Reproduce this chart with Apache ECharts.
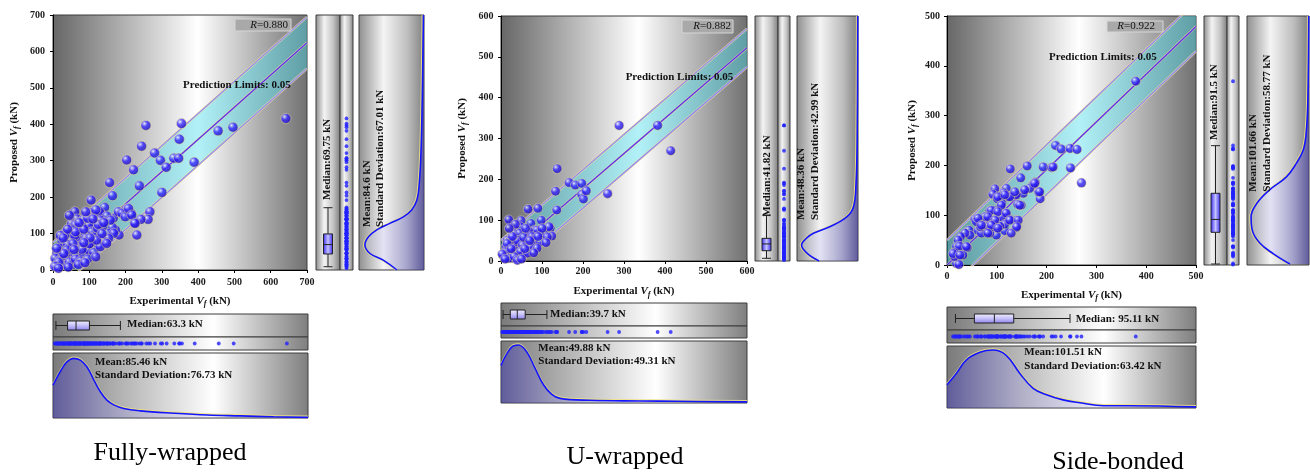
<!DOCTYPE html>
<html><head><meta charset="utf-8">
<script src="https://cdn.jsdelivr.net/npm/echarts@6/dist/echarts.min.js"></script>
<style>html,body{margin:0;padding:0;background:#fff}#c{width:1310px;height:473px}</style>
</head><body><div id="c"></div>
<script>
// ---------------- DATA ----------------
// Fully-wrapped: [experimental, proposed] in kN
const fwPoints = [[256,397],[354,402],[244,340],[348,359],[455,382],[496,392],[642,416],[203,302],[280,321],[296,301],[333,307],[346,307],[389,296],[222,275],[312,282],[238,231],[300,213],[156,240],[164,204],[105,192],[60,160],[142,172],[104,158],[130,154],[202,167],[215,156],[185,157],[267,160],[262,139],[242,139],[224,130],[231,96],[182,96],[166,142],[172,110],[163,117],[150,101],[147,78],[130,86],[31,101],[66,140],[51,127],[87,137],[96,119],[75,101],
[84,139],[116,148],[128,160],[148,148],[130,137],[114,128],[98,124],[80,119],[61,124],[52,110],[73,108],[89,101],[107,105],[123,114],[137,121],[158,137],[180,160],[190,156],[199,146],[208,169],[217,151],[226,128],[167,101],[153,87],[139,78],[125,69],[107,78],[93,64],[75,78],[66,87],[48,82],[34,96],[25,78],[18,60],[11,46],[6,32],[11,14],[29,18],[43,32],[57,46],[66,37],[84,46],[98,55],[112,48],[130,64],[148,73],[48,60],[34,41],[20,28],[52,14],[25,14],
[40,70],[60,95],[70,65],[90,88],[100,72],[55,72],[38,55],[80,57],[112,90],[120,82],[15,22],[5,10],[30,45],[45,22],[62,30],[76,25],[62,105],[85,112],[95,142],[118,165],[125,125],[72,130],[45,150],[40,112],[20,95],[10,60],[28,88],[95,30],[118,36],[102,88],[85,75],[58,56],[42,8],[15,5],[70,15],[88,20],[135,100],[140,130],[110,140],[90,160]];
// U-wrapped
const uwPoints = [[288,332],[382,332],[414,270],[137,226],[166,192],[181,186],[197,190],[197,163],[201,152],[208,172],[260,165],[133,171],[136,125],[66,127],[90,129],[98,100],[19,101],[49,99],[73,92],[120,80],[104,68],[96,64],[124,61],[82,76],[47,84],[32,68],[45,68],[67,68],[15,51],[12,35],[5,15],[15,7],[27,7],[39,11],[55,19],[47,27],[31,35],[67,31],[84,35],[39,47],[59,47],[79,51],[96,47],[23,23],[63,39],
[117,84],[88,76],[68,72],[23,51],[40,51],[113,59],[15,43],[52,39],[72,35],[88,31],[11,23],[48,23],[64,19],[7,11],[19,7],[32,11],[3,17],[40,2],
[28,60],[55,58],[75,60],[60,80],[35,90],[20,80],[100,80],[110,45],[80,20],[50,5],[25,30],[10,5],[58,30],[90,60],[70,50]];
// Side-bonded
const sbPoints = [[379,369],[218,240],[229,233],[247,234],[261,232],[248,195],[270,165],[161,199],[193,197],[210,196],[213,197],[127,193],[148,175],[187,133],[184,147],[177,166],[173,162],[166,154],[153,144],[149,120],[142,122],[139,141],[138,90],[139,75],[119,154],[123,137],[110,124],[114,145],[96,153],[92,142],[101,133],[99,110],[116,104],[86,109],[86,90],[101,90],[125,92],[113,90],[116,69],[99,60],[86,64],[76,84],[76,97],[56,92],[62,70],[69,64],[44,70],[46,60],[36,64],[27,57],[22,50],[19,37],[25,38],[41,35],[32,20],[15,25],[19,3],[24,1],[15,17],[126,137],[67,77],[82,77],[59,87],[109,97],[129,64],[116,82],[92,77],[106,78],
[136,147],[156,151],[176,164],[186,147],[102,137],[116,141],[146,120],[109,120],[89,110],[102,107],[119,104],[82,97],[96,90],[126,90],[143,90],[62,94],[69,80],[89,80],[102,74],[140,77],[82,64],[39,37],[12,23],[26,20]];

// Box statistics [min, Q1, median, Q3, max]
const fwExpBox = [8, 40, 63.3, 100, 185];
const fwPredBox = [9, 44, 69.75, 99, 171];
const uwExpBox = [5, 22.6, 39.7, 59, 112];
const uwPredBox = [6.6, 25.2, 41.82, 55.5, 112.5];
const sbExpBox = [17, 55, 95.11, 134, 247];
const sbPredBox = [2, 65.7, 91.5, 144, 239.6];

// Density curves (relative), experimental: [kN, density]; proposed: [density, kN]
const fwExpDensity = [[0,0.55],[20,0.78],[38,0.94],[57,1.0],[75,0.97],[93,0.86],[112,0.64],[130,0.44],[148,0.30],[167,0.22],[194,0.16],[240,0.12],[332,0.08],[423,0.05],[515,0.035],[606,0.02],[700,0.01]];
const fwPredDensity = [[0.46,0],[0.69,27],[0.92,46],[1.0,69],[0.94,91],[0.80,110],[0.58,128],[0.35,146],[0.21,165],[0.12,192],[0.08,238],[0.05,329],[0.03,467],[0.01,700]];
const uwExpDensity = [[0,0.65],[15,0.86],[31,0.99],[43,1.0],[63,0.88],[83,0.6],[104,0.31],[124,0.15],[144,0.08],[217,0.047],[339,0.035],[428,0.03],[600,0.02]];
const uwPredDensity = [[0.69,0],[0.91,20],[1.0,39],[0.92,55],[0.79,68],[0.5,84],[0.2,108],[0.08,133],[0.035,190],[0.015,300],[0.005,600]];
const sbExpDensity = [[0,0.40],[19,0.6],[39,0.83],[66,0.96],[92,1.0],[119,0.91],[146,0.6],[173,0.34],[200,0.23],[233,0.14],[267,0.09],[314,0.04],[367,0.04],[500,0.02]];
const sbPredDensity = [[0.33,2],[0.62,23],[0.85,44],[0.98,70],[1.0,97],[0.90,124],[0.68,151],[0.39,177],[0.22,204],[0.1,231],[0.05,264],[0.02,331],[0.005,500]];

// Fit line and 95% prediction limits (end points)
const fwFit = [[0,5],[700,624]], fwUpper = [[0,76],[700,695]], fwLower = [[0,-66],[700,553]];
const uwFit = [[0,4],[600,522]], uwUpper = [[0,51],[600,569]], uwLower = [[0,-43],[600,475]];
const sbFit = [[0,0],[500,479]], sbUpper = [[0,50],[500,529]], sbLower = [[0,-50],[500,429]];

// Axis ticks
const fwTicks = [0,100,200,300,400,500,600,700];
const uwTicks = [0,100,200,300,400,500,600];
const sbTicks = [0,100,200,300,400,500];

// Texts
const titles = ['Fully-wrapped','U-wrapped','Side-bonded'];
const rValues = ['0.880','0.882','0.922'];
const expMedianLabels = ['Median:63.3 kN','Median:39.7 kN','Median: 95.11 kN'];
const expMeanLabels = ['Mean:85.46 kN','Mean:49.88 kN','Mean:101.51 kN'];
const expSdLabels = ['Standard Deviation:76.73 kN','Standard Deviation:49.31 kN','Standard Deviation:63.42 kN'];
const predMedianLabels = ['Median:69.75 kN','Median:41.82 kN','Median:91.5 kN'];
const predMeanLabels = ['Mean:84.6 kN','Mean:48.36 kN','Mean:101.66 kN'];
const predSdLabels = ['Standard Deviation:67.01 kN','Standard Deviation:42.99 kN','Standard Deviation:58.77 kN'];
const predLimitLabel = 'Prediction Limits: 0.05';

// ---------------- LAYOUT ----------------
const layouts = [
 { main:[53,15,254,255], sbox:[316,15,24,255], sstrip:[340,15,13,255], sdist:[359,15,65,255],
   bbox:[53,314,255,23], bstrip:[53,337,255,13], bdist:[53,353,255,65], white:0.57, sym:10,
   xGap:24, yGap:32, xMargin:7, yMargin:8, bMax:1.09, sMax:1.1,
   rBox:[235,19,56,12], rText:[288,25.5], pl:[290.7,85], bMed:[127,324.5], bMean:[95,362.5], bSd:[95,375.5],
   sMed:[327,200], sMean:[367,227], sSd:[380.5,227], title:[170,453] },
 { main:[501,16,246,245], sbox:[755,16,23,245], sstrip:[778,16,12,245], sdist:[797,16,61,245],
   bbox:[501,303,246,23], bstrip:[501,326,246,12], bdist:[501,341,246,62], white:0.56, sym:9.5,
   xGap:23.5, yGap:32, xMargin:5.5, yMargin:7.5, bMax:1.07, sMax:1.08,
   rBox:[682,20,51,13], rText:[731,26.5], pl:[733.3,77], bMed:[550,314.5], bMean:[538.3,348], bSd:[538.3,361],
   sMed:[767,216.7], sMean:[801.5,220], sSd:[815.5,220], title:[625,457] },
 { main:[947,16,249,249], sbox:[1204,16,23,249], sstrip:[1227,16,12,249], sdist:[1247,16,62,249],
   bbox:[947,307,249,23], bstrip:[947,330,249,13], bdist:[947,346,249,62], white:0.53, sym:9.5,
   xGap:23, yGap:28, xMargin:6, yMargin:7, bMax:1.07, sMax:1.07,
   rBox:[1107,21,56,11], rText:[1155,26.5], pl:[1156.7,57], bMed:[1075.7,319], bMean:[1024.3,352.5], bSd:[1024.3,366],
   sMed:[1214.5,140], sMean:[1253.5,191.7], sSd:[1267,191.7], title:[1118,462] }
];

const panels = [
 { points: fwPoints, expBox: fwExpBox, predBox: fwPredBox, expDens: fwExpDensity, predDens: fwPredDensity, ticks: fwTicks, fit: fwFit, upper: fwUpper, lower: fwLower },
 { points: uwPoints, expBox: uwExpBox, predBox: uwPredBox, expDens: uwExpDensity, predDens: uwPredDensity, ticks: uwTicks, fit: uwFit, upper: uwUpper, lower: uwLower },
 { points: sbPoints, expBox: sbExpBox, predBox: sbPredBox, expDens: sbExpDensity, predDens: sbPredDensity, ticks: sbTicks, fit: sbFit, upper: sbUpper, lower: sbLower }
];

// ---------------- BUILD ----------------
const FONT = 'Liberation Serif';
const TXT = '#111';
const grids = [], xAxes = [], yAxes = [], series = [], graphics = [];
function lin(stops, vertical){ return {type:'linear', x:0, y:0, x2: vertical?0:1, y2: vertical?1:0,
  colorStops: stops.map(s=>({offset:s[0], color:s[1]}))}; }
function addGrid(r, bg){
  grids.push({left:r[0], top:r[1], width:r[2], height:r[3], show:true, backgroundColor:bg,
    borderColor:'#3c3c3c', borderWidth:1});
  return grids.length-1;
}
const hidden = {show:false};
function hidAxis(g, extra){ return Object.assign({gridIndex:g, show:false, axisLine:hidden, axisTick:hidden, axisLabel:hidden, splitLine:hidden}, extra); }

const vPanelBg = lin([[0,'#8a8a8a'],[0.35,'#f4f4f4'],[0.7,'#c4c4c4'],[1,'#7c7c7c']]);
const sDistBg = lin([[0,'#8e8e8e'],[0.38,'#f4f4f4'],[0.75,'#bdbdbd'],[1,'#7e7e7e']]);
const hPanelBg = lin([[0,'#7a7a7a'],[0.63,'#ffffff'],[1,'#7e7e7e']]);

const labelStyle = {fontFamily:FONT, fontWeight:'bold', fontSize:10, color:'#1a1a1a'};
const richBase = {fontFamily:FONT, fontWeight:'bold', fontSize:11, color:TXT};
const nameRich = { n: richBase, v: Object.assign({}, richBase, {fontStyle:'italic'}),
  s: Object.assign({}, richBase, {fontStyle:'italic', fontSize:8, padding:[6,0,0,0]}) };

const ballColor = {type:'radial', x:0.36, y:0.33, r:0.7, colorStops:[
  {offset:0, color:'#ffffff'},{offset:0.14, color:'#a8a8ff'},{offset:0.42, color:'#3426ff'},{offset:0.85, color:'#2010c8'},{offset:1, color:'#180a90'}]};

panels.forEach((P, i) => {
  const L = layouts[i];
  const t = P.ticks, tmin = t[0], tmax = t[t.length-1], tint = t[1]-t[0];

  // --- main scatter grid
  const gMain = addGrid(L.main, lin([[0,'#666666'],[L.white,'#ffffff'],[1,'#707070']]));
  const axisCommon = {gridIndex:gMain, type:'value', min:tmin, max:tmax, interval:tint,
    axisLine:{show:true, lineStyle:{color:'#000', width:1}}, axisTick:{show:true, inside:false, length:3, lineStyle:{color:'#000'}},
    splitLine:{show:false}, nameLocation:'middle', nameTextStyle:{rich:nameRich}};
  xAxes.push(Object.assign({}, axisCommon, {name:'{n|Experimental }{v|V}{s|f}{n| (kN)}', nameGap:L.xGap,
    axisLabel:Object.assign({margin:L.xMargin}, labelStyle)}));
  yAxes.push(Object.assign({}, axisCommon, {name:'{n|Proposed }{v|V}{s|f}{n| (kN)}', nameGap:L.yGap,
    axisLabel:Object.assign({margin:L.yMargin}, labelStyle)}));

  series.push({type:'custom', xAxisIndex:gMain, yAxisIndex:gMain, clip:true, silent:true, z:1, data:[[0,0]],
    renderItem:(params, api) => ({type:'polygon', shape:{points:[api.coord(P.lower[0]), api.coord(P.lower[1]), api.coord(P.upper[1]), api.coord(P.upper[0])]},
      style:{fill:'rgba(70,222,236,0.42)'}})});
  [[P.upper,'#8a7cff',1.1],[P.lower,'#8a7cff',1.1],[P.fit,'#5a2cf0',1.3]].forEach(([d,c,w]) => {
    series.push({type:'line', xAxisIndex:gMain, yAxisIndex:gMain, data:d, symbol:'none', silent:true, z:2, clip:true,
      lineStyle:{color:'rgba(236,224,150,0.85)', width:2.4}});
    series.push({type:'line', xAxisIndex:gMain, yAxisIndex:gMain, data:d, symbol:'none', silent:true, z:3, clip:true,
      lineStyle:{color:c, width:w}});
  });
  series.push({type:'scatter', xAxisIndex:gMain, yAxisIndex:gMain, data:P.points, symbolSize:L.sym, z:5, silent:true,
    itemStyle:{color:ballColor, borderColor:'rgba(240,228,150,0.9)', borderWidth:0.7}});

  // --- side (proposed) box
  const gSB = addGrid(L.sbox, vPanelBg);
  xAxes.push(hidAxis(gSB, {type:'category', data:['p']}));
  yAxes.push(hidAxis(gSB, {type:'value', min:tmin, max:tmax}));
  series.push({type:'boxplot', xAxisIndex:gSB, yAxisIndex:gSB, data:[P.predBox], boxWidth:[9,9], silent:true,
    itemStyle:{color:lin([[0,'#3422f2'],[0.5,'#c4c4ff'],[1,'#3422f2']]), borderColor:'#222', borderWidth:1}});

  // --- side strip
  const gSS = addGrid(L.sstrip, vPanelBg);
  xAxes.push(hidAxis(gSS, {type:'value', min:0, max:1}));
  yAxes.push(hidAxis(gSS, {type:'value', min:tmin, max:tmax}));
  series.push({type:'scatter', xAxisIndex:gSS, yAxisIndex:gSS, data:P.points.map(p => [0.5, p[1]]), symbolSize:3.8, silent:true,
    itemStyle:{color:'#2020ff'}});

  // --- side density (y axis as time axis so area fills toward density 0)
  const gSD = addGrid(L.sdist, sDistBg);
  xAxes.push(hidAxis(gSD, {type:'value', min:0, max:L.sMax, inverse:true}));
  yAxes.push(hidAxis(gSD, {type:'time', min:tmin, max:tmax}));
  series.push({type:'line', xAxisIndex:gSD, yAxisIndex:gSD, data:P.predDens, smooth:0.4, symbol:'none', silent:true,
    lineStyle:{color:'#1414ff', width:1.6, shadowColor:'rgba(236,226,130,0.9)', shadowOffsetX:-1},
    areaStyle:{color:lin([[0,'rgba(215,215,255,0.25)'],[0.6,'rgba(140,135,235,0.45)'],[1,'rgba(60,50,190,0.65)']])}});

  // --- bottom (experimental) box
  const gBB = addGrid(L.bbox, hPanelBg);
  xAxes.push(hidAxis(gBB, {type:'value', min:tmin, max:tmax}));
  yAxes.push(hidAxis(gBB, {type:'category', data:['e']}));
  series.push({type:'boxplot', xAxisIndex:gBB, yAxisIndex:gBB, data:[P.expBox], boxWidth:[9,9], silent:true,
    itemStyle:{color:lin([[0,'#f2f2ff'],[0.5,'#c6c0f8'],[1,'#8a80ec']], true), borderColor:'#222', borderWidth:1}});

  // --- bottom strip
  const gBS = addGrid(L.bstrip, hPanelBg);
  xAxes.push(hidAxis(gBS, {type:'value', min:tmin, max:tmax}));
  yAxes.push(hidAxis(gBS, {type:'value', min:0, max:1}));
  series.push({type:'scatter', xAxisIndex:gBS, yAxisIndex:gBS, data:P.points.map(p => [p[0], 0.5]), symbolSize:3.8, silent:true,
    itemStyle:{color:'#2020ff'}});

  // --- bottom density
  const gBD = addGrid(L.bdist, hPanelBg);
  xAxes.push(hidAxis(gBD, {type:'value', min:tmin, max:tmax}));
  yAxes.push(hidAxis(gBD, {type:'value', min:0, max:L.bMax}));
  series.push({type:'line', xAxisIndex:gBD, yAxisIndex:gBD, data:P.expDens, smooth:0.4, symbol:'none', silent:true,
    lineStyle:{color:'#1414ff', width:1.6, shadowColor:'rgba(236,226,130,0.9)', shadowOffsetY:-1},
    areaStyle:{color:lin([[0,'rgba(60,50,200,0.6)'],[0.3,'rgba(150,145,245,0.35)'],[1,'rgba(210,210,255,0.15)']])}});

  // --- annotations
  const txt = (x, y, text, opt) => Object.assign({type:'text', x, y, silent:true, z:100,
    style:Object.assign({text, fontFamily:FONT, fontSize:11, fontWeight:'bold', fill:TXT,
      align:'left', verticalAlign:'middle', textAlign:'left', textVerticalAlign:'middle'}, (opt && opt.style) || {})},
    opt ? {rotation: opt.rotation || 0} : {});
  graphics.push({type:'rect', shape:{x:L.rBox[0], y:L.rBox[1], width:L.rBox[2], height:L.rBox[3]}, silent:true, z:99,
    style:{fill:'#a9a9a9', stroke:'#d6d6d6', lineWidth:1}});
  graphics.push({type:'text', x:L.rText[0], y:L.rText[1], silent:true, z:100,
    style:{text:'{i|R}{n|=' + rValues[i] + '}', align:'right', verticalAlign:'middle', textAlign:'right', textVerticalAlign:'middle',
      rich:{i:{fontFamily:FONT, fontSize:11, fontStyle:'italic', fill:TXT, color:TXT}, n:{fontFamily:FONT, fontSize:11, fill:TXT, color:TXT}}}});
  graphics.push(txt(L.pl[0], L.pl[1], predLimitLabel, {style:{align:'right', textAlign:'right'}}));
  graphics.push(txt(L.bMed[0], L.bMed[1], expMedianLabels[i]));
  graphics.push(txt(L.bMean[0], L.bMean[1], expMeanLabels[i]));
  graphics.push(txt(L.bSd[0], L.bSd[1], expSdLabels[i]));
  graphics.push(txt(L.sMed[0], L.sMed[1], predMedianLabels[i], {rotation:Math.PI/2}));
  graphics.push(txt(L.sMean[0], L.sMean[1], predMeanLabels[i], {rotation:Math.PI/2}));
  graphics.push(txt(L.sSd[0], L.sSd[1], predSdLabels[i], {rotation:Math.PI/2}));
  graphics.push(txt(L.title[0], L.title[1], titles[i], {style:{fontSize:26, fontWeight:'normal', fill:'#000', align:'center', textAlign:'center'}}));
});

const chart = echarts.init(document.getElementById('c'), null, {renderer:'canvas'});
chart.setOption({animation:false, backgroundColor:'#ffffff', grid:grids, xAxis:xAxes, yAxis:yAxes, series:series, graphic:{elements:graphics}});
</script></body></html>
